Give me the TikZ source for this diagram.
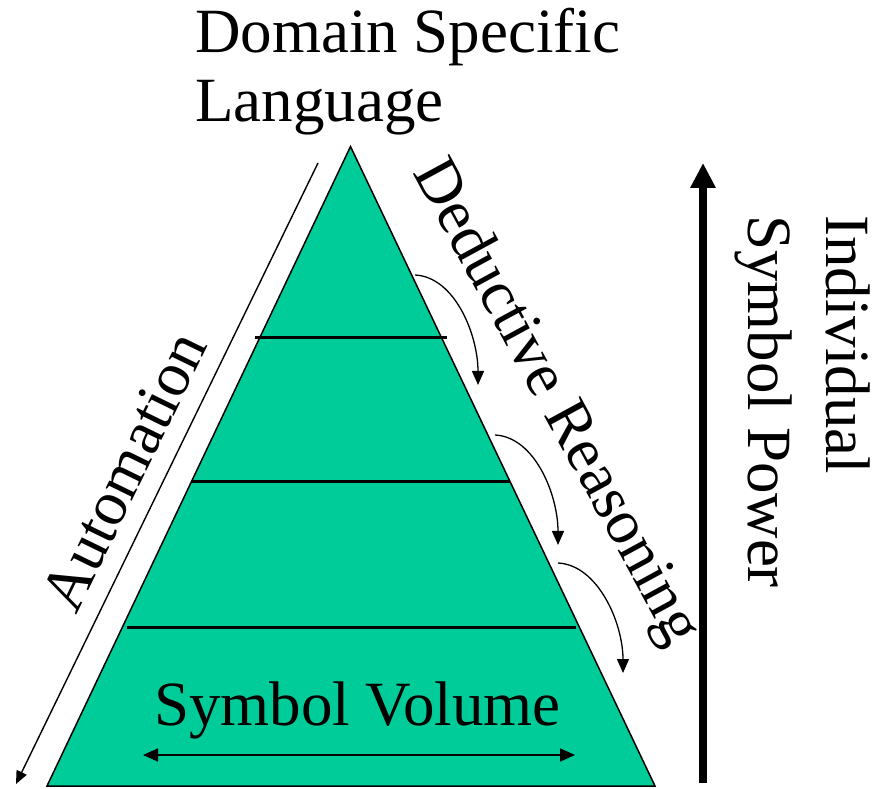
\documentclass[tikz,border=0pt]{standalone}
\usepackage{fontspec}
\newfontfamily\labelface{Liberation Serif}
\usetikzlibrary{arrows.meta}
\definecolor{layerfill}{RGB}{0,204,153}
\begin{document}
\begin{tikzpicture}[x=1pt,y=1pt,
  bigtext/.style={font=\labelface\fontsize{63}{69}\selectfont, inner sep=0pt},
  layerline/.style={line width=3pt},
  thinarrow/.style={line width=1.4pt, -{Triangle[length=13pt,width=11pt]}},
  bentarrow/.style={line width=1.3pt, -{Triangle[length=14pt,width=12pt]}}]
\useasboundingbox (0,0) rectangle (873,788);

% pyramid
\coordinate (apex) at (350.5,641.5);
\coordinate (bl) at (47,2);
\coordinate (br) at (655,2);
\filldraw[fill=layerfill, draw=black, line width=1.5pt, line join=miter] (apex) -- (br) -- (bl) -- cycle;

% layer boundaries
\coordinate (l1a) at (255,450); \coordinate (l1b) at (447,450);
\coordinate (l2a) at (191,306); \coordinate (l2b) at (510,306);
\coordinate (l3a) at (127,161); \coordinate (l3b) at (576,161);
\draw[layerline] (l1a) -- (l1b);
\draw[layerline] (l2a) -- (l2b);
\draw[layerline] (l3a) -- (l3b);

% labels
\node[bigtext, align=left, anchor=base west] (dsl) at (195,666) {Domain Specific\\Language};
\node[bigtext, rotate=64] (auto) at (124,317) {Automation};
\node[bigtext, rotate=-61.5] (ded) at (555,385) {Deductive Reasoning};
\node[bigtext, anchor=base] (vol) at (357.5,63) {Symbol Volume};
\node[bigtext, font=\labelface\fontsize{63}{78}\selectfont, align=left, rotate=-90, anchor=north west] (power) at (870,573) {Individual\\Symbol Power};

% automation arrow
\coordinate (a1) at (318,625);
\coordinate (a2) at (16,4);
\draw[thinarrow] (a1) -- (a2);

% symbol volume arrow
\coordinate (v1) at (143,33);
\coordinate (v2) at (575,33);
\draw[line width=1.5pt, {Triangle[length=15pt,width=13pt]}-{Triangle[length=15pt,width=13pt]}] (v1) -- (v2);

% symbol power arrow
\coordinate (p1) at (703,5);
\coordinate (p2) at (703,625);
\draw[line width=8pt, -{Triangle[length=25pt,width=24pt]}] (p1) -- (p2);

% deduction steps
\coordinate (c1s) at (415,513); \coordinate (c1e) at (478,403);
\coordinate (c2s) at (495,353); \coordinate (c2e) at (558,243);
\coordinate (c3s) at (558,225); \coordinate (c3e) at (623,115);
\draw[bentarrow] (c1s) .. controls +(40,-2) and +(0,50) .. (c1e);
\draw[bentarrow] (c2s) .. controls +(40,-2) and +(0,50) .. (c2e);
\draw[bentarrow] (c3s) .. controls +(40,-2) and +(0,50) .. (c3e);
\end{tikzpicture}
\end{document}
